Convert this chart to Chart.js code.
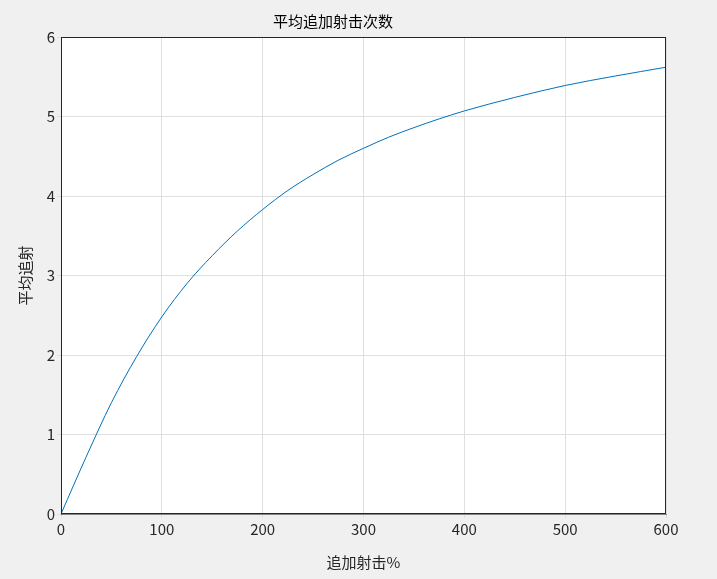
<!DOCTYPE html>
<html><head><meta charset="utf-8">
<script src="https://cdn.jsdelivr.net/npm/chart.js@4"></script>
<style>html,body{margin:0;background:#f0f0f0}#c{display:block}</style>
</head><body>
<canvas id="c" width="717" height="579"></canvas>
<script>
const xValues = [0, 25, 50, 75, 100, 125, 150, 175, 200, 225, 250, 275, 300, 325, 350, 375, 400, 450, 500, 550, 600];
const yValues = [0, 0.72, 1.4, 1.98, 2.48, 2.9, 3.25, 3.56, 3.83, 4.07, 4.27, 4.45, 4.6, 4.74, 4.86, 4.97, 5.07, 5.24, 5.39, 5.51, 5.62];
const xTicks = [0, 100, 200, 300, 400, 500, 600];
const yTicks = [0, 1, 2, 3, 4, 5, 6];
const FONT = '"Noto Sans CJK SC", "Noto Sans", sans-serif';
const bg = {
  id: 'bg',
  beforeDraw(c) {
    const g = c.ctx, a = c.chartArea;
    g.save(); g.fillStyle = '#f0f0f0'; g.fillRect(0, 0, c.width, c.height);
    g.fillStyle = '#fff'; g.fillRect(a.left, a.top, a.right - a.left, a.bottom - a.top); g.restore();
  },
  afterDraw(c) {
    const g = c.ctx, a = c.chartArea;
    g.save(); g.strokeStyle = '#262626'; g.lineWidth = 1;
    g.strokeRect(a.left + 0.5, a.top + 0.5, a.right - a.left - 1, a.bottom - a.top - 1); g.restore();
  }
};
new Chart(document.getElementById('c'), {
  type: 'scatter',
  data: { datasets: [{ data: xValues.map((x, i) => ({ x, y: yValues[i] })), showLine: true, borderColor: '#0072BD', borderWidth: 1, pointRadius: 0, cubicInterpolationMode: 'monotone' }] },
  options: {
    responsive: false, animation: false,
    layout: { padding: { left: 0, right: 51, top: 0, bottom: 0 } },
    plugins: {
      legend: { display: false }, tooltip: { enabled: false },
      title: { display: true, text: '平均追加射击次数', color: '#000', font: { family: FONT, size: 15, weight: 'normal' }, padding: { top: 12, bottom: 7 } }
    },
    scales: {
      x: {
        type: 'linear', min: 0, max: 600,
        afterBuildTicks: s => { s.ticks = xTicks.map(v => ({ value: v })); },
        afterFit: s => { s.height = 65; },
        grid: { color: '#dfdfdf', tickLength: 4 }, border: { color: '#262626', width: 0.5 },
        ticks: { color: '#262626', font: { family: FONT, size: 15 }, padding: 2 },
        title: { display: true, text: '追加射击%', color: '#262626', font: { family: FONT, size: 15 }, padding: { top: 0, bottom: 8 } }
      },
      y: {
        min: 0, max: 6,
        afterBuildTicks: s => { s.ticks = yTicks.map(v => ({ value: v })); },
        afterFit: s => { s.width = 61; },
        grid: { color: '#dfdfdf', tickLength: 4 }, border: { color: '#262626', width: 0.5 },
        ticks: { color: '#262626', font: { family: FONT, size: 15 }, padding: 2 },
        title: { display: true, text: '平均追射', color: '#262626', font: { family: FONT, size: 15 }, padding: { top: 16, bottom: 4 } }
      }
    }
  },
  plugins: [bg]
});
</script>
</body></html>
